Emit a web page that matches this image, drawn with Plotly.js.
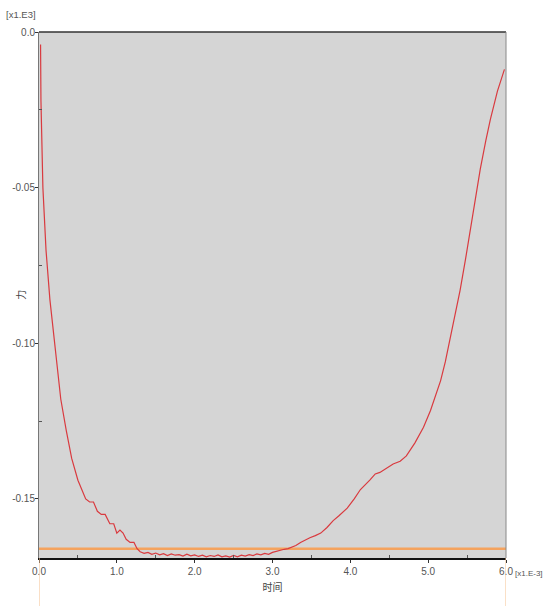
<!DOCTYPE html>
<html>
<head>
<meta charset="utf-8">
<script src="https://cdn.plot.ly/plotly-3.0.1.min.js"></script>
<style>html,body{margin:0;padding:0;background:#fff;}#chart{width:543px;height:606px;}</style>
</head>
<body>
<div id="chart"></div>
<script>
// Time [x1.E-3]
const timeVals = [0.02,0.025,0.05,0.09,0.14,0.20,0.24,0.28,0.35,0.42,0.50,0.55,0.60,0.65,0.70,0.75,0.80,0.85,0.91,0.96,1.00,1.04,1.08,1.12,1.17,1.22,1.26,1.30,1.35,1.40,1.45,1.50,1.55,1.60,1.65,1.70,1.75,1.80,1.85,1.90,1.95,2.00,2.05,2.10,2.15,2.20,2.25,2.30,2.35,2.40,2.45,2.50,2.55,2.60,2.65,2.70,2.75,2.80,2.85,2.90,2.95,3.00,3.05,3.10,3.15,3.20,3.25,3.30,3.36,3.42,3.48,3.55,3.62,3.70,3.78,3.85,3.96,4.05,4.13,4.25,4.32,4.38,4.47,4.55,4.64,4.72,4.83,4.94,5.03,5.09,5.16,5.22,5.28,5.35,5.41,5.48,5.54,5.60,5.67,5.74,5.80,5.89,5.98];
// Force [x1.E3]
const forceVals = [-0.004,-0.022,-0.050,-0.070,-0.086,-0.100,-0.109,-0.118,-0.128,-0.137,-0.144,-0.147,-0.150,-0.151,-0.151,-0.154,-0.155,-0.155,-0.158,-0.158,-0.161,-0.160,-0.161,-0.163,-0.164,-0.164,-0.166,-0.167,-0.1675,-0.1672,-0.1678,-0.1674,-0.1680,-0.1676,-0.1682,-0.1677,-0.1681,-0.1679,-0.1684,-0.1678,-0.1683,-0.1680,-0.1685,-0.1681,-0.1686,-0.1682,-0.1685,-0.1680,-0.1686,-0.1683,-0.1687,-0.1682,-0.1686,-0.1681,-0.1684,-0.1679,-0.1682,-0.1677,-0.1680,-0.1675,-0.1678,-0.1672,-0.1668,-0.1665,-0.1662,-0.1660,-0.1655,-0.1650,-0.1640,-0.1632,-0.1625,-0.1618,-0.1610,-0.1592,-0.1570,-0.1555,-0.1530,-0.1500,-0.1470,-0.1440,-0.1420,-0.1415,-0.1400,-0.1388,-0.1379,-0.1362,-0.1320,-0.1270,-0.1216,-0.1174,-0.1120,-0.1060,-0.0990,-0.0910,-0.0830,-0.0730,-0.0640,-0.0540,-0.0440,-0.0350,-0.0280,-0.0190,-0.0120];
const refLevel = -0.166;
const xTickVals = [0,1,2,3,4,5,6];
const xTickText = ["0.0","1.0","2.0","3.0","4.0","5.0","6.0"];
const yTickVals = [0,-0.05,-0.10,-0.15];
const yTickText = ["0.0","-0.05","-0.10","-0.15"];
const xRange = [0,6];
const yRange = [-0.169,0];

const fontFam = '"Liberation Sans Narrow","Liberation Sans",Arial,sans-serif';
const cjk = '"Noto Sans CJK SC",sans-serif';

const traces = [
  {x:[xRange[0],xRange[1]], y:[refLevel,refLevel], mode:'lines', line:{color:'#f5a35e', width:2.5}, hoverinfo:'skip', showlegend:false},
  {x:timeVals, y:forceVals, mode:'lines', line:{color:'#d93a3f', width:1.2}, showlegend:false}
];

const layout = {
  width:543, height:606,
  margin:{l:39, r:37, t:32, b:48},
  paper_bgcolor:'#ffffff',
  plot_bgcolor:'#d5d5d5',
  font:{family:fontFam, size:10, color:'#555'},
  showlegend:false,
  xaxis:{range:xRange, tickvals:xTickVals, ticktext:xTickText, ticks:'outside', ticklen:3, tickcolor:'#333',
    showgrid:false, zeroline:false, showline:true, linecolor:'#111', linewidth:2, mirror:false,
    minor:{tickvals:[0.5,1.5,2.5,3.5,4.5,5.5], ticks:'inside', ticklen:3, tickcolor:'#555', showgrid:false},
    title:{text:'时间', font:{family:cjk, size:10, color:'#444'}, standoff:8}},
  yaxis:{range:yRange, tickvals:yTickVals, ticktext:yTickText, ticks:'outside', ticklen:3, tickcolor:'#333',
    ticklabelstandoff:-2,
    showgrid:false, zeroline:false, showline:true, linecolor:'#777', linewidth:1,
    minor:{tickvals:[-0.025,-0.075,-0.125], ticks:'inside', ticklen:3, tickcolor:'#555', showgrid:false}},
  shapes:[
    {type:'line', xref:'paper', yref:'paper', x0:0, x1:1, y0:1, y1:1, line:{color:'#333', width:1.5}},
    {type:'line', xref:'paper', yref:'paper', x0:1, x1:1, y0:0, y1:1, line:{color:'#888', width:1}},
    {type:'line', xref:'x', yref:'paper', x0:0, x1:0, y0:-0.095, y1:0, line:{color:'#f5c08e', width:1}},
    {type:'line', xref:'x', yref:'paper', x0:6, x1:6, y0:-0.095, y1:0, line:{color:'#f5c08e', width:1}}
  ],
  annotations:[
    {text:'[x1.E3]', xref:'paper', yref:'paper', x:-0.075, y:1.034, xanchor:'left', yanchor:'middle', showarrow:false, font:{size:9.5, color:'#555'}},
    {text:'[x1.E-3]', xref:'paper', yref:'paper', x:1.015, y:0, xanchor:'left', yanchor:'middle', yshift:-15, showarrow:false, font:{size:8, color:'#555'}},
    {text:'力', xref:'paper', yref:'paper', x:-0.041, y:0.5, xanchor:'center', yanchor:'middle', textangle:-90, showarrow:false, font:{family:cjk, size:10, color:'#444'}}
  ]
};

Plotly.newPlot('chart', traces, layout, {displayModeBar:false, staticPlot:true});
</script>
</body>
</html>
